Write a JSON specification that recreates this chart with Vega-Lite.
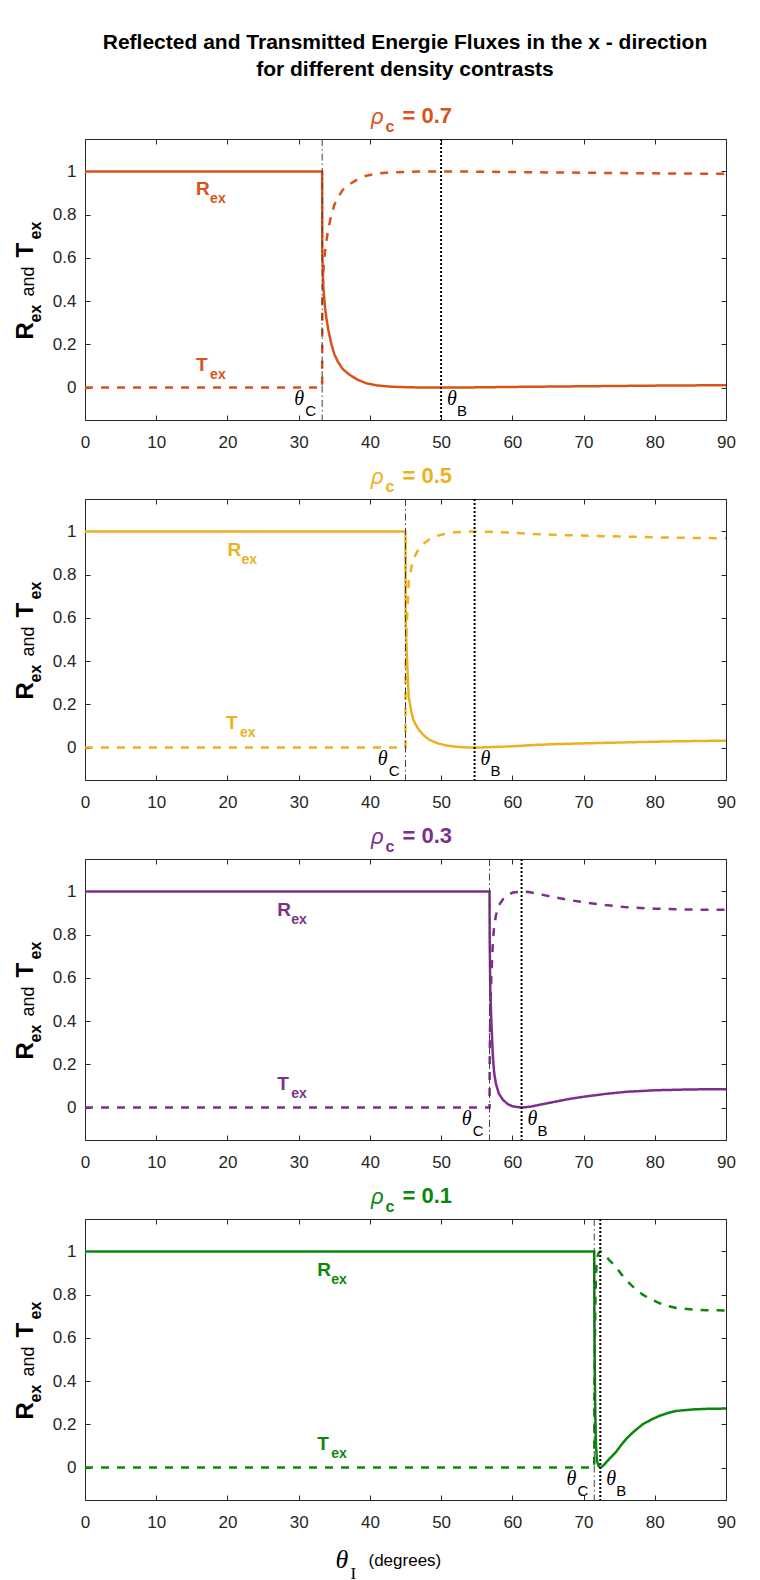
{
  "$schema": "https://vega.github.io/schema/vega-lite/v6.json",
  "background": "white",
  "padding": {"left": 13, "top": 31, "right": 10, "bottom": 4},
  "title": {
    "text": ["Reflected and Transmitted Energie Fluxes in the x - direction", "for different density contrasts"],
    "font": "Liberation Sans", "fontSize": 21, "fontWeight": "bold", "color": "#000000",
    "lineHeight": 27, "anchor": "start", "align": "center", "frame": "group", "dx": 320, "offset": 25
  },
  "data": {"values": [
    {"kind": "panel", "panel": "0.7", "thetaC": 33.3, "thetaB": 50, "title": "= 0.7"},
    {"kind": "panel", "panel": "0.5", "thetaC": 45, "thetaB": 54.7, "title": "= 0.5"},
    {"kind": "panel", "panel": "0.3", "thetaC": 56.8, "thetaB": 61.3, "title": "= 0.3"},
    {"kind": "panel", "panel": "0.1", "thetaC": 71.5, "thetaB": 72.35, "title": "= 0.1"},
    {"kind": "label", "panel": "0.7", "letter": "R", "theta": 15.6, "value": 0.89},
    {"kind": "label", "panel": "0.7", "letter": "T", "theta": 15.6, "value": 0.075},
    {"kind": "label", "panel": "0.5", "letter": "R", "theta": 20.0, "value": 0.885},
    {"kind": "label", "panel": "0.5", "letter": "T", "theta": 19.8, "value": 0.085},
    {"kind": "label", "panel": "0.3", "letter": "R", "theta": 27.0, "value": 0.885},
    {"kind": "label", "panel": "0.3", "letter": "T", "theta": 27.0, "value": 0.08},
    {"kind": "label", "panel": "0.1", "letter": "R", "theta": 32.6, "value": 0.885},
    {"kind": "label", "panel": "0.1", "letter": "T", "theta": 32.6, "value": 0.08},

    {"kind": "curve", "panel": "0.7", "series": "R", "theta": 0, "value": 1},
    {"kind": "curve", "panel": "0.7", "series": "R", "theta": 33.3, "value": 1},
    {"kind": "curve", "panel": "0.7", "series": "R", "theta": 33.32, "value": 0.62},
    {"kind": "curve", "panel": "0.7", "series": "R", "theta": 33.45, "value": 0.47},
    {"kind": "curve", "panel": "0.7", "series": "R", "theta": 33.7, "value": 0.37},
    {"kind": "curve", "panel": "0.7", "series": "R", "theta": 33.9, "value": 0.32},
    {"kind": "curve", "panel": "0.7", "series": "R", "theta": 34.2, "value": 0.26},
    {"kind": "curve", "panel": "0.7", "series": "R", "theta": 34.6, "value": 0.2},
    {"kind": "curve", "panel": "0.7", "series": "R", "theta": 35, "value": 0.155},
    {"kind": "curve", "panel": "0.7", "series": "R", "theta": 35.5, "value": 0.12},
    {"kind": "curve", "panel": "0.7", "series": "R", "theta": 36.2, "value": 0.085},
    {"kind": "curve", "panel": "0.7", "series": "R", "theta": 37.2, "value": 0.058},
    {"kind": "curve", "panel": "0.7", "series": "R", "theta": 38.3, "value": 0.036},
    {"kind": "curve", "panel": "0.7", "series": "R", "theta": 39.5, "value": 0.02},
    {"kind": "curve", "panel": "0.7", "series": "R", "theta": 41, "value": 0.01},
    {"kind": "curve", "panel": "0.7", "series": "R", "theta": 43, "value": 0.004},
    {"kind": "curve", "panel": "0.7", "series": "R", "theta": 46, "value": 0.001},
    {"kind": "curve", "panel": "0.7", "series": "R", "theta": 50, "value": 0},
    {"kind": "curve", "panel": "0.7", "series": "R", "theta": 55, "value": 0.001},
    {"kind": "curve", "panel": "0.7", "series": "R", "theta": 60, "value": 0.003},
    {"kind": "curve", "panel": "0.7", "series": "R", "theta": 70, "value": 0.006},
    {"kind": "curve", "panel": "0.7", "series": "R", "theta": 80, "value": 0.009},
    {"kind": "curve", "panel": "0.7", "series": "R", "theta": 90, "value": 0.011},
    {"kind": "curve", "panel": "0.7", "series": "T", "theta": 0, "value": 0},
    {"kind": "curve", "panel": "0.7", "series": "T", "theta": 33.3, "value": 0},
    {"kind": "curve", "panel": "0.7", "series": "T", "theta": 33.32, "value": 0.38},
    {"kind": "curve", "panel": "0.7", "series": "T", "theta": 33.45, "value": 0.53},
    {"kind": "curve", "panel": "0.7", "series": "T", "theta": 33.7, "value": 0.63},
    {"kind": "curve", "panel": "0.7", "series": "T", "theta": 33.9, "value": 0.68},
    {"kind": "curve", "panel": "0.7", "series": "T", "theta": 34.2, "value": 0.74},
    {"kind": "curve", "panel": "0.7", "series": "T", "theta": 34.6, "value": 0.8},
    {"kind": "curve", "panel": "0.7", "series": "T", "theta": 35, "value": 0.845},
    {"kind": "curve", "panel": "0.7", "series": "T", "theta": 35.5, "value": 0.88},
    {"kind": "curve", "panel": "0.7", "series": "T", "theta": 36.2, "value": 0.915},
    {"kind": "curve", "panel": "0.7", "series": "T", "theta": 37.2, "value": 0.942},
    {"kind": "curve", "panel": "0.7", "series": "T", "theta": 38.3, "value": 0.964},
    {"kind": "curve", "panel": "0.7", "series": "T", "theta": 39.5, "value": 0.98},
    {"kind": "curve", "panel": "0.7", "series": "T", "theta": 41, "value": 0.99},
    {"kind": "curve", "panel": "0.7", "series": "T", "theta": 43, "value": 0.996},
    {"kind": "curve", "panel": "0.7", "series": "T", "theta": 46, "value": 0.999},
    {"kind": "curve", "panel": "0.7", "series": "T", "theta": 50, "value": 1},
    {"kind": "curve", "panel": "0.7", "series": "T", "theta": 55, "value": 0.999},
    {"kind": "curve", "panel": "0.7", "series": "T", "theta": 60, "value": 0.997},
    {"kind": "curve", "panel": "0.7", "series": "T", "theta": 70, "value": 0.994},
    {"kind": "curve", "panel": "0.7", "series": "T", "theta": 80, "value": 0.991},
    {"kind": "curve", "panel": "0.7", "series": "T", "theta": 90, "value": 0.989},

    {"kind": "curve", "panel": "0.5", "series": "R", "theta": 0, "value": 1},
    {"kind": "curve", "panel": "0.5", "series": "R", "theta": 45, "value": 1},
    {"kind": "curve", "panel": "0.5", "series": "R", "theta": 45.02, "value": 0.6},
    {"kind": "curve", "panel": "0.5", "series": "R", "theta": 45.15, "value": 0.45},
    {"kind": "curve", "panel": "0.5", "series": "R", "theta": 45.45, "value": 0.235},
    {"kind": "curve", "panel": "0.5", "series": "R", "theta": 45.8, "value": 0.17},
    {"kind": "curve", "panel": "0.5", "series": "R", "theta": 46.1, "value": 0.128},
    {"kind": "curve", "panel": "0.5", "series": "R", "theta": 46.7, "value": 0.09},
    {"kind": "curve", "panel": "0.5", "series": "R", "theta": 47.5, "value": 0.058},
    {"kind": "curve", "panel": "0.5", "series": "R", "theta": 48.4, "value": 0.035},
    {"kind": "curve", "panel": "0.5", "series": "R", "theta": 49.5, "value": 0.02},
    {"kind": "curve", "panel": "0.5", "series": "R", "theta": 50.7, "value": 0.01},
    {"kind": "curve", "panel": "0.5", "series": "R", "theta": 52, "value": 0.004},
    {"kind": "curve", "panel": "0.5", "series": "R", "theta": 53.5, "value": 0.001},
    {"kind": "curve", "panel": "0.5", "series": "R", "theta": 54.7, "value": 0},
    {"kind": "curve", "panel": "0.5", "series": "R", "theta": 57, "value": 0.002},
    {"kind": "curve", "panel": "0.5", "series": "R", "theta": 60, "value": 0.006},
    {"kind": "curve", "panel": "0.5", "series": "R", "theta": 63, "value": 0.012},
    {"kind": "curve", "panel": "0.5", "series": "R", "theta": 67, "value": 0.017},
    {"kind": "curve", "panel": "0.5", "series": "R", "theta": 72, "value": 0.021},
    {"kind": "curve", "panel": "0.5", "series": "R", "theta": 77, "value": 0.025},
    {"kind": "curve", "panel": "0.5", "series": "R", "theta": 83, "value": 0.029},
    {"kind": "curve", "panel": "0.5", "series": "R", "theta": 90, "value": 0.032},
    {"kind": "curve", "panel": "0.5", "series": "T", "theta": 0, "value": 0},
    {"kind": "curve", "panel": "0.5", "series": "T", "theta": 45, "value": 0},
    {"kind": "curve", "panel": "0.5", "series": "T", "theta": 45.02, "value": 0.4},
    {"kind": "curve", "panel": "0.5", "series": "T", "theta": 45.15, "value": 0.55},
    {"kind": "curve", "panel": "0.5", "series": "T", "theta": 45.45, "value": 0.765},
    {"kind": "curve", "panel": "0.5", "series": "T", "theta": 45.8, "value": 0.83},
    {"kind": "curve", "panel": "0.5", "series": "T", "theta": 46.1, "value": 0.872},
    {"kind": "curve", "panel": "0.5", "series": "T", "theta": 46.7, "value": 0.91},
    {"kind": "curve", "panel": "0.5", "series": "T", "theta": 47.5, "value": 0.942},
    {"kind": "curve", "panel": "0.5", "series": "T", "theta": 48.4, "value": 0.965},
    {"kind": "curve", "panel": "0.5", "series": "T", "theta": 49.5, "value": 0.98},
    {"kind": "curve", "panel": "0.5", "series": "T", "theta": 50.7, "value": 0.99},
    {"kind": "curve", "panel": "0.5", "series": "T", "theta": 52, "value": 0.996},
    {"kind": "curve", "panel": "0.5", "series": "T", "theta": 53.5, "value": 0.999},
    {"kind": "curve", "panel": "0.5", "series": "T", "theta": 54.7, "value": 1},
    {"kind": "curve", "panel": "0.5", "series": "T", "theta": 57, "value": 0.998},
    {"kind": "curve", "panel": "0.5", "series": "T", "theta": 60, "value": 0.994},
    {"kind": "curve", "panel": "0.5", "series": "T", "theta": 63, "value": 0.988},
    {"kind": "curve", "panel": "0.5", "series": "T", "theta": 67, "value": 0.983},
    {"kind": "curve", "panel": "0.5", "series": "T", "theta": 72, "value": 0.979},
    {"kind": "curve", "panel": "0.5", "series": "T", "theta": 77, "value": 0.975},
    {"kind": "curve", "panel": "0.5", "series": "T", "theta": 83, "value": 0.971},
    {"kind": "curve", "panel": "0.5", "series": "T", "theta": 90, "value": 0.968},

    {"kind": "curve", "panel": "0.3", "series": "R", "theta": 0, "value": 1},
    {"kind": "curve", "panel": "0.3", "series": "R", "theta": 56.8, "value": 1},
    {"kind": "curve", "panel": "0.3", "series": "R", "theta": 56.82, "value": 0.8},
    {"kind": "curve", "panel": "0.3", "series": "R", "theta": 56.9, "value": 0.55},
    {"kind": "curve", "panel": "0.3", "series": "R", "theta": 57.05, "value": 0.4},
    {"kind": "curve", "panel": "0.3", "series": "R", "theta": 57.27, "value": 0.235},
    {"kind": "curve", "panel": "0.3", "series": "R", "theta": 57.45, "value": 0.16},
    {"kind": "curve", "panel": "0.3", "series": "R", "theta": 57.7, "value": 0.11},
    {"kind": "curve", "panel": "0.3", "series": "R", "theta": 58.1, "value": 0.065},
    {"kind": "curve", "panel": "0.3", "series": "R", "theta": 58.7, "value": 0.035},
    {"kind": "curve", "panel": "0.3", "series": "R", "theta": 59.4, "value": 0.015},
    {"kind": "curve", "panel": "0.3", "series": "R", "theta": 60.1, "value": 0.005},
    {"kind": "curve", "panel": "0.3", "series": "R", "theta": 61.3, "value": 0},
    {"kind": "curve", "panel": "0.3", "series": "R", "theta": 62.5, "value": 0.004},
    {"kind": "curve", "panel": "0.3", "series": "R", "theta": 64, "value": 0.014},
    {"kind": "curve", "panel": "0.3", "series": "R", "theta": 66, "value": 0.027},
    {"kind": "curve", "panel": "0.3", "series": "R", "theta": 68, "value": 0.04},
    {"kind": "curve", "panel": "0.3", "series": "R", "theta": 70, "value": 0.05},
    {"kind": "curve", "panel": "0.3", "series": "R", "theta": 73, "value": 0.063},
    {"kind": "curve", "panel": "0.3", "series": "R", "theta": 76, "value": 0.073},
    {"kind": "curve", "panel": "0.3", "series": "R", "theta": 80, "value": 0.08},
    {"kind": "curve", "panel": "0.3", "series": "R", "theta": 85, "value": 0.084},
    {"kind": "curve", "panel": "0.3", "series": "R", "theta": 90, "value": 0.085},
    {"kind": "curve", "panel": "0.3", "series": "T", "theta": 0, "value": 0},
    {"kind": "curve", "panel": "0.3", "series": "T", "theta": 56.8, "value": 0},
    {"kind": "curve", "panel": "0.3", "series": "T", "theta": 56.82, "value": 0.2},
    {"kind": "curve", "panel": "0.3", "series": "T", "theta": 56.9, "value": 0.45},
    {"kind": "curve", "panel": "0.3", "series": "T", "theta": 57.05, "value": 0.6},
    {"kind": "curve", "panel": "0.3", "series": "T", "theta": 57.27, "value": 0.765},
    {"kind": "curve", "panel": "0.3", "series": "T", "theta": 57.45, "value": 0.84},
    {"kind": "curve", "panel": "0.3", "series": "T", "theta": 57.7, "value": 0.89},
    {"kind": "curve", "panel": "0.3", "series": "T", "theta": 58.1, "value": 0.935},
    {"kind": "curve", "panel": "0.3", "series": "T", "theta": 58.7, "value": 0.965},
    {"kind": "curve", "panel": "0.3", "series": "T", "theta": 59.4, "value": 0.985},
    {"kind": "curve", "panel": "0.3", "series": "T", "theta": 60.1, "value": 0.995},
    {"kind": "curve", "panel": "0.3", "series": "T", "theta": 61.3, "value": 1},
    {"kind": "curve", "panel": "0.3", "series": "T", "theta": 62.5, "value": 0.996},
    {"kind": "curve", "panel": "0.3", "series": "T", "theta": 64, "value": 0.986},
    {"kind": "curve", "panel": "0.3", "series": "T", "theta": 66, "value": 0.973},
    {"kind": "curve", "panel": "0.3", "series": "T", "theta": 68, "value": 0.96},
    {"kind": "curve", "panel": "0.3", "series": "T", "theta": 70, "value": 0.95},
    {"kind": "curve", "panel": "0.3", "series": "T", "theta": 73, "value": 0.937},
    {"kind": "curve", "panel": "0.3", "series": "T", "theta": 76, "value": 0.927},
    {"kind": "curve", "panel": "0.3", "series": "T", "theta": 80, "value": 0.92},
    {"kind": "curve", "panel": "0.3", "series": "T", "theta": 85, "value": 0.916},
    {"kind": "curve", "panel": "0.3", "series": "T", "theta": 90, "value": 0.915},

    {"kind": "curve", "panel": "0.1", "series": "R", "theta": 0, "value": 1},
    {"kind": "curve", "panel": "0.1", "series": "R", "theta": 71.5, "value": 1},
    {"kind": "curve", "panel": "0.1", "series": "R", "theta": 71.52, "value": 0.72},
    {"kind": "curve", "panel": "0.1", "series": "R", "theta": 71.58, "value": 0.45},
    {"kind": "curve", "panel": "0.1", "series": "R", "theta": 71.65, "value": 0.25},
    {"kind": "curve", "panel": "0.1", "series": "R", "theta": 71.75, "value": 0.1},
    {"kind": "curve", "panel": "0.1", "series": "R", "theta": 71.9, "value": 0.03},
    {"kind": "curve", "panel": "0.1", "series": "R", "theta": 72.1, "value": 0.008},
    {"kind": "curve", "panel": "0.1", "series": "R", "theta": 72.35, "value": 0},
    {"kind": "curve", "panel": "0.1", "series": "R", "theta": 72.8, "value": 0.01},
    {"kind": "curve", "panel": "0.1", "series": "R", "theta": 73.2, "value": 0.025},
    {"kind": "curve", "panel": "0.1", "series": "R", "theta": 73.65, "value": 0.041},
    {"kind": "curve", "panel": "0.1", "series": "R", "theta": 74.5, "value": 0.07},
    {"kind": "curve", "panel": "0.1", "series": "R", "theta": 75.3, "value": 0.105},
    {"kind": "curve", "panel": "0.1", "series": "R", "theta": 76, "value": 0.133},
    {"kind": "curve", "panel": "0.1", "series": "R", "theta": 77, "value": 0.165},
    {"kind": "curve", "panel": "0.1", "series": "R", "theta": 78.3, "value": 0.2},
    {"kind": "curve", "panel": "0.1", "series": "R", "theta": 79.5, "value": 0.222},
    {"kind": "curve", "panel": "0.1", "series": "R", "theta": 80.7, "value": 0.24},
    {"kind": "curve", "panel": "0.1", "series": "R", "theta": 82, "value": 0.254},
    {"kind": "curve", "panel": "0.1", "series": "R", "theta": 83, "value": 0.262},
    {"kind": "curve", "panel": "0.1", "series": "R", "theta": 85.35, "value": 0.269},
    {"kind": "curve", "panel": "0.1", "series": "R", "theta": 87.5, "value": 0.272},
    {"kind": "curve", "panel": "0.1", "series": "R", "theta": 90, "value": 0.273},
    {"kind": "curve", "panel": "0.1", "series": "T", "theta": 0, "value": 0},
    {"kind": "curve", "panel": "0.1", "series": "T", "theta": 71.5, "value": 0},
    {"kind": "curve", "panel": "0.1", "series": "T", "theta": 71.52, "value": 0.28},
    {"kind": "curve", "panel": "0.1", "series": "T", "theta": 71.58, "value": 0.55},
    {"kind": "curve", "panel": "0.1", "series": "T", "theta": 71.65, "value": 0.75},
    {"kind": "curve", "panel": "0.1", "series": "T", "theta": 71.75, "value": 0.9},
    {"kind": "curve", "panel": "0.1", "series": "T", "theta": 71.9, "value": 0.97},
    {"kind": "curve", "panel": "0.1", "series": "T", "theta": 72.1, "value": 0.992},
    {"kind": "curve", "panel": "0.1", "series": "T", "theta": 72.35, "value": 1},
    {"kind": "curve", "panel": "0.1", "series": "T", "theta": 72.8, "value": 0.99},
    {"kind": "curve", "panel": "0.1", "series": "T", "theta": 73.2, "value": 0.975},
    {"kind": "curve", "panel": "0.1", "series": "T", "theta": 73.65, "value": 0.959},
    {"kind": "curve", "panel": "0.1", "series": "T", "theta": 74.5, "value": 0.93},
    {"kind": "curve", "panel": "0.1", "series": "T", "theta": 75.3, "value": 0.895},
    {"kind": "curve", "panel": "0.1", "series": "T", "theta": 76, "value": 0.867},
    {"kind": "curve", "panel": "0.1", "series": "T", "theta": 77, "value": 0.835},
    {"kind": "curve", "panel": "0.1", "series": "T", "theta": 78.3, "value": 0.8},
    {"kind": "curve", "panel": "0.1", "series": "T", "theta": 79.5, "value": 0.778},
    {"kind": "curve", "panel": "0.1", "series": "T", "theta": 80.7, "value": 0.76},
    {"kind": "curve", "panel": "0.1", "series": "T", "theta": 82, "value": 0.746},
    {"kind": "curve", "panel": "0.1", "series": "T", "theta": 83, "value": 0.738},
    {"kind": "curve", "panel": "0.1", "series": "T", "theta": 85.35, "value": 0.731},
    {"kind": "curve", "panel": "0.1", "series": "T", "theta": 87.5, "value": 0.728},
    {"kind": "curve", "panel": "0.1", "series": "T", "theta": 90, "value": 0.727}
  ]},
  "facet": {"row": {"field": "panel", "type": "nominal", "sort": "descending", "header": {"title": null, "labels": false, "labelPadding": 0, "titlePadding": 0}}},
  "spacing": {"row": 79},
  "bounds": "flush",
  "resolve": {"axis": {"x": "independent", "y": "independent"}},
  "spec": {
    "width": 641,
    "height": 281,
    "resolve": {"axis": {"x": "independent", "y": "independent"}},
    "layer": [
      {
        "transform": [{"filter": "datum.kind === 'curve'"}],
        "mark": {"type": "line", "strokeWidth": 2.5},
        "encoding": {
          "x": {"field": "theta", "type": "quantitative", "scale": {"domain": [0, 90], "nice": false, "zero": false},
                "axis": {"orient": "bottom", "title": null, "values": [0, 10, 20, 30, 40, 50, 60, 70, 80, 90], "format": "d"}},
          "y": {"field": "value", "type": "quantitative", "scale": {"domain": [-0.15, 1.15], "nice": false, "zero": false},
                "axis": {"orient": "left", "title": null, "values": [0, 0.2, 0.4, 0.6, 0.8, 1], "format": "~g"}},
          "color": {"field": "panel", "type": "nominal", "scale": {"domain": ["0.7", "0.5", "0.3", "0.1"], "range": ["#D95319", "#EDB120", "#7E2F8E", "#0B870B"]}, "legend": null},
          "strokeDash": {"field": "series", "type": "nominal", "scale": {"domain": ["R", "T"], "range": [[1, 0], [8, 8]]}, "legend": null},
          "order": {"field": "theta", "type": "quantitative"}
        }
      },
      {
        "transform": [{"filter": "datum.kind === 'panel'"}],
        "mark": {"type": "rule", "color": "#404040", "strokeWidth": 1, "strokeDash": [7, 3, 1.5, 3]},
        "encoding": {
          "x": {"field": "thetaC", "type": "quantitative",
                "axis": {"orient": "top", "title": null, "labels": false, "values": [0, 10, 20, 30, 40, 50, 60, 70, 80, 90]}}
        }
      },
      {
        "transform": [{"filter": "datum.kind === 'panel'"}],
        "mark": {"type": "rule", "color": "#000000", "strokeWidth": 2, "strokeDash": [2, 2]},
        "encoding": {
          "x": {"field": "thetaB", "type": "quantitative", "axis": null}
        }
      },
      {
        "transform": [{"filter": "datum.kind === 'panel'"}],
        "mark": {"type": "text", "text": "θ", "font": "Liberation Serif", "fontStyle": "italic", "fontSize": 20, "align": "right", "baseline": "alphabetic", "dx": -18, "dy": -15, "color": "#000000"},
        "encoding": {
          "x": {"field": "thetaC", "type": "quantitative", "axis": null},
          "y": {"datum": -0.15, "axis": null}
        }
      },
      {
        "transform": [{"filter": "datum.kind === 'panel'"}],
        "mark": {"type": "text", "text": "C", "font": "Liberation Sans", "fontSize": 15, "align": "right", "baseline": "alphabetic", "dx": -6, "dy": -4, "color": "#000000"},
        "encoding": {
          "x": {"field": "thetaC", "type": "quantitative", "axis": null},
          "y": {"datum": -0.15, "axis": null}
        }
      },
      {
        "transform": [{"filter": "datum.kind === 'panel'"}],
        "mark": {"type": "text", "text": "θ", "font": "Liberation Serif", "fontStyle": "italic", "fontSize": 20, "align": "left", "baseline": "alphabetic", "dx": 6, "dy": -15, "color": "#000000"},
        "encoding": {
          "x": {"field": "thetaB", "type": "quantitative", "axis": null},
          "y": {"datum": -0.15, "axis": null}
        }
      },
      {
        "transform": [{"filter": "datum.kind === 'panel'"}],
        "mark": {"type": "text", "text": "B", "font": "Liberation Sans", "fontSize": 15, "align": "left", "baseline": "alphabetic", "dx": 16, "dy": -4, "color": "#000000"},
        "encoding": {
          "x": {"field": "thetaB", "type": "quantitative", "axis": null},
          "y": {"datum": -0.15, "axis": null}
        }
      },
      {
        "transform": [{"filter": "datum.kind === 'label'"}],
        "mark": {"type": "text", "font": "Liberation Sans", "fontWeight": "bold", "fontSize": 19, "align": "left", "baseline": "alphabetic"},
        "encoding": {
          "x": {"field": "theta", "type": "quantitative", "axis": null},
          "y": {"field": "value", "type": "quantitative",
                "axis": {"orient": "right", "title": null, "labels": false, "values": [0, 0.2, 0.4, 0.6, 0.8, 1]}},
          "text": {"field": "letter"},
          "color": {"field": "panel", "type": "nominal", "legend": null}
        }
      },
      {
        "transform": [{"filter": "datum.kind === 'label'"}],
        "mark": {"type": "text", "text": "ex", "font": "Liberation Sans", "fontWeight": "bold", "fontSize": 14, "align": "left", "baseline": "alphabetic", "dx": 14, "dy": 8},
        "encoding": {
          "x": {"field": "theta", "type": "quantitative", "axis": null},
          "y": {"field": "value", "type": "quantitative", "axis": null},
          "color": {"field": "panel", "type": "nominal", "legend": null}
        }
      },
      {
        "transform": [{"filter": "datum.kind === 'panel'"}],
        "mark": {"type": "text", "text": "ρ", "font": "Liberation Sans", "fontStyle": "italic", "fontSize": 22, "align": "right", "baseline": "alphabetic", "dx": -22, "dy": -15},
        "encoding": {
          "x": {"datum": 45, "axis": null},
          "y": {"datum": 1.15, "axis": null},
          "color": {"field": "panel", "type": "nominal", "legend": null}
        }
      },
      {
        "transform": [{"filter": "datum.kind === 'panel'"}],
        "mark": {"type": "text", "text": "c", "font": "Liberation Sans", "fontWeight": "bold", "fontSize": 16, "align": "left", "baseline": "alphabetic", "dx": -20, "dy": -7},
        "encoding": {
          "x": {"datum": 45, "axis": null},
          "y": {"datum": 1.15, "axis": null},
          "color": {"field": "panel", "type": "nominal", "legend": null}
        }
      },
      {
        "transform": [{"filter": "datum.kind === 'panel'"}],
        "mark": {"type": "text", "font": "Liberation Sans", "fontWeight": "bold", "fontSize": 22, "align": "left", "baseline": "alphabetic", "dx": -3, "dy": -16},
        "encoding": {
          "x": {"datum": 45, "axis": null},
          "y": {"datum": 1.15, "axis": null},
          "text": {"field": "title"},
          "color": {"field": "panel", "type": "nominal", "legend": null}
        }
      },
      {
        "transform": [{"filter": "datum.kind === 'panel'"}],
        "mark": {"type": "text", "text": "R", "font": "Liberation Sans", "fontWeight": "bold", "fontSize": 24, "angle": 270, "align": "left", "baseline": "alphabetic", "dx": -60, "color": "#000000"},
        "encoding": {"x": {"datum": -7.3, "axis": null}, "y": {"datum": 0.5, "axis": null}}
      },
      {
        "transform": [{"filter": "datum.kind === 'panel'"}],
        "mark": {"type": "text", "text": "ex", "font": "Liberation Sans", "fontWeight": "bold", "fontSize": 16, "angle": 270, "align": "left", "baseline": "alphabetic", "dx": -43, "dy": 8, "color": "#000000"},
        "encoding": {"x": {"datum": -7.3, "axis": null}, "y": {"datum": 0.5, "axis": null}}
      },
      {
        "transform": [{"filter": "datum.kind === 'panel'"}],
        "mark": {"type": "text", "text": "and", "font": "Liberation Sans", "fontSize": 18, "angle": 270, "align": "left", "baseline": "alphabetic", "dx": -17, "dy": 1, "color": "#000000"},
        "encoding": {"x": {"datum": -7.3, "axis": null}, "y": {"datum": 0.5, "axis": null}}
      },
      {
        "transform": [{"filter": "datum.kind === 'panel'"}],
        "mark": {"type": "text", "text": "T", "font": "Liberation Sans", "fontWeight": "bold", "fontSize": 24, "angle": 270, "align": "left", "baseline": "alphabetic", "dx": 22, "color": "#000000"},
        "encoding": {"x": {"datum": -7.3, "axis": null}, "y": {"datum": 0.5, "axis": null}}
      },
      {
        "transform": [{"filter": "datum.kind === 'panel'"}],
        "mark": {"type": "text", "text": "ex", "font": "Liberation Sans", "fontWeight": "bold", "fontSize": 16, "angle": 270, "align": "left", "baseline": "alphabetic", "dx": 40, "dy": 8, "color": "#000000"},
        "encoding": {"x": {"datum": -7.3, "axis": null}, "y": {"datum": 0.5, "axis": null}}
      },
      {
        "transform": [{"filter": "datum.kind === 'panel' && datum.panel === '0.1'"}],
        "mark": {"type": "text", "text": "θ", "font": "Liberation Serif", "fontStyle": "italic", "fontSize": 26, "align": "left", "baseline": "alphabetic", "dx": -70, "dy": 68, "color": "#000000"},
        "encoding": {"x": {"datum": 45, "axis": null}, "y": {"datum": -0.15, "axis": null}}
      },
      {
        "transform": [{"filter": "datum.kind === 'panel' && datum.panel === '0.1'"}],
        "mark": {"type": "text", "text": "I", "font": "Liberation Serif", "fontSize": 17, "align": "left", "baseline": "alphabetic", "dx": -55, "dy": 79, "color": "#000000"},
        "encoding": {"x": {"datum": 45, "axis": null}, "y": {"datum": -0.15, "axis": null}}
      },
      {
        "transform": [{"filter": "datum.kind === 'panel' && datum.panel === '0.1'"}],
        "mark": {"type": "text", "text": "(degrees)", "font": "Liberation Sans", "fontSize": 17, "align": "left", "baseline": "alphabetic", "dx": -37, "dy": 66, "color": "#000000"},
        "encoding": {"x": {"datum": 45, "axis": null}, "y": {"datum": -0.15, "axis": null}}
      }
    ]
  },
  "config": {
    "view": {"stroke": "#262626", "strokeWidth": 1},
    "axis": {"domain": false, "grid": false, "ticks": true, "tickSize": -5, "tickColor": "#262626", "tickWidth": 1,
             "labelColor": "#262626", "labelFont": "Liberation Sans", "labelFontSize": 17, "labelFlush": false, "labelOverlap": false},
    "axisX": {"labelPadding": 19},
    "axisY": {"labelPadding": 14},
    "text": {"font": "Liberation Sans"}
  }
}
